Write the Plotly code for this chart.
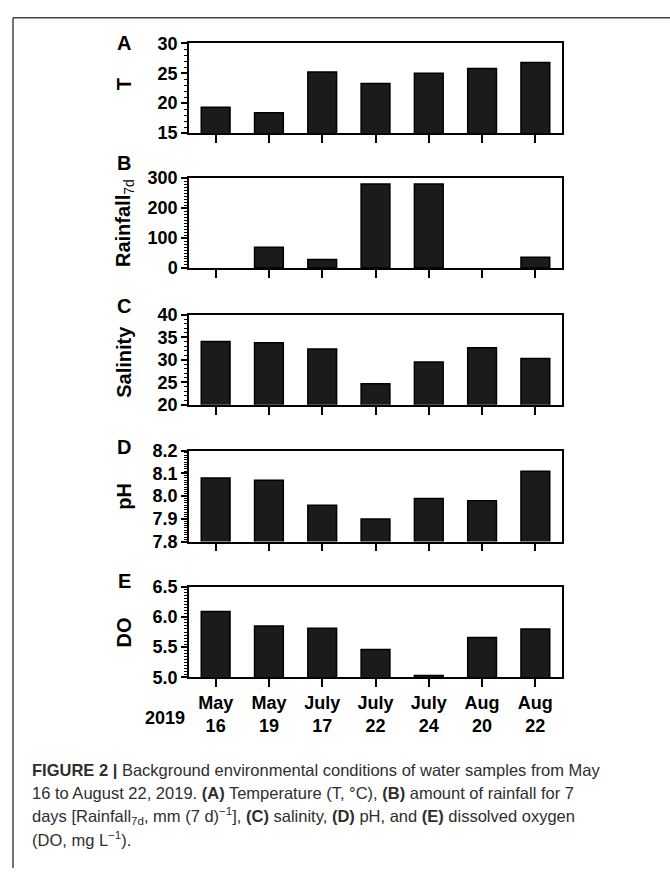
import plotly.graph_objects as go

# Sampling dates (2019) and measured variables
dates = ["May<br>16", "May<br>19", "July<br>17", "July<br>22", "July<br>24", "Aug<br>20", "Aug<br>22"]
temperature = [19.3, 18.4, 25.2, 23.3, 25.0, 25.8, 26.8]
rainfall_7d = [0, 69, 28, 280, 280, 0, 36]
salinity = [34.1, 33.8, 32.4, 24.7, 29.5, 32.7, 30.3]
ph = [8.08, 8.07, 7.96, 7.90, 7.99, 7.98, 8.11]
dissolved_oxygen = [6.09, 5.85, 5.81, 5.46, 5.03, 5.66, 5.80]

W, H = 670, 878
FONT = "Liberation Sans, Arial, sans-serif"


def py(p):
    return 1 - p / H


def px(p):
    return p / W


# panel definitions: values, letter, letter y, y-title, title centre y, range, minor step,
# panel top/bottom (px), tick values, tick labels
panels = [
    (temperature, "A", 34, "<b>T</b>", 76, [15, 30], 1, 34, 126,
     [15, 20, 25, 30], ["15", "20", "25", "30"]),
    (rainfall_7d, "B", 157, "<b>Rainfall</b><sub>7d</sub>", 218, [0, 300], 10, 172, 264,
     [0, 100, 200, 300], ["0", "100", "200", "300"]),
    (salinity, "C", 303, "<b>Salinity</b>", 360, [20, 40], 1, 312, 404,
     [20, 25, 30, 35, 40], ["20", "25", "30", "35", "40"]),
    (ph, "D", 447, "<b>pH</b>", 498, [7.8, 8.2], 0.01, 451, 544,
     [7.8, 7.9, 8.0, 8.1, 8.2], ["7.8", "7.9", "8.0", "8.1", "8.2"]),
    (dissolved_oxygen, "E", 584, "<b>DO</b>", 637, [5.0, 6.5], 0.05, 590, 683,
     [5.0, 5.5, 6.0, 6.5], ["5.0", "5.5", "6.0", "6.5"]),
]

X0, X1 = 189, 562

fig = go.Figure()
annotations = []
layout = {}

for i, (vals, letter, ly, ytitle, ty, yr, minor, top, bot, tv, tt) in enumerate(panels):
    n = i + 1
    xa = "x" if n == 1 else f"x{n}"
    ya = "y" if n == 1 else f"y{n}"
    fig.add_trace(go.Bar(
        x=list(range(len(dates))), y=vals, xaxis=xa, yaxis=ya,
        width=0.54,
        marker=dict(color="#1b1b1b",
                    line=dict(color="#000000", width=[0 if v == 0 else 1.5 for v in vals])),
        showlegend=False,
    ))
    last = (n == len(panels))
    layout[f"xaxis{'' if n == 1 else n}"] = dict(
        domain=[px(X0), px(X1)], anchor=ya,
        range=[-0.5, 6.5],
        tickmode="array", tickvals=list(range(len(dates))), ticktext=dates,
        showticklabels=last,
        tickson="boundaries", ticks="outside", ticklen=8, tickwidth=1.5, tickcolor="#000",
        showline=True, linecolor="#000", linewidth=1.5, mirror=True,
        showgrid=False, zeroline=False,
        tickfont=dict(family=FONT, size=18, color="#000", weight="bold"),
    )
    layout[f"yaxis{'' if n == 1 else n}"] = dict(
        domain=[py(bot), py(top)], anchor=xa,
        range=yr, tickmode="array", tickvals=tv, ticktext=tt,
        ticks="outside", ticklen=6, tickwidth=1.5, tickcolor="#000",
        minor=dict(ticks="outside", ticklen=3, tickwidth=1, tickcolor="#000",
                   tick0=yr[0], dtick=minor, showgrid=False),
        showline=True, linecolor="#000", linewidth=1.5, mirror=True,
        showgrid=False, zeroline=False,
        tickfont=dict(family=FONT, size=18, color="#000", weight="bold"),
    )
    # panel letter
    annotations.append(dict(
        text=f"<b>{letter}</b>", x=px(124), y=py(ly), xref="paper", yref="paper",
        xanchor="center", yanchor="middle", showarrow=False,
        font=dict(family=FONT, size=20, color="#000"),
    ))
    # y-axis title
    annotations.append(dict(
        text=ytitle, x=px(124), y=py(ty),
        xref="paper", yref="paper",
        xanchor="center", yanchor="middle", showarrow=False, textangle=-90,
        font=dict(family=FONT, size=20, color="#000"),
    ))

# year label beside the date ticks
annotations.append(dict(
    text="<b>2019</b>", x=px(165), y=py(725), xref="paper", yref="paper",
    xanchor="center", yanchor="middle", showarrow=False,
    font=dict(family=FONT, size=18, color="#000"),
))

# figure caption
caption = [
    "<b>FIGURE 2 |</b> Background environmental conditions of water samples from May",
    "16 to August 22, 2019. <b>(A)</b> Temperature (T, °C), <b>(B)</b> amount of rainfall for 7",
    "days [Rainfall<sub>7d</sub>, mm (7 d)<sup>−1</sup>], <b>(C)</b> salinity, <b>(D)</b> pH, and <b>(E)</b> dissolved oxygen",
    "(DO, mg L<sup>−1</sup>).",
]
for k, line in enumerate(caption):
    annotations.append(dict(
        text=line, x=px(30), y=py(778 + 23.5 * k), xref="paper", yref="paper",
        xanchor="left", yanchor="middle", showarrow=False,
        font=dict(family=FONT, size=16.5, color="#2e2e2e"),
    ))

# page frame (top and left rules)
shapes = [
    dict(type="line", xref="paper", yref="paper", x0=px(13), x1=1, y0=py(8), y1=py(8),
         line=dict(color="#444", width=1.5)),
    dict(type="line", xref="paper", yref="paper", x0=px(13), x1=px(13), y0=py(8), y1=0,
         line=dict(color="#444", width=1.5)),
]

fig.update_layout(
    width=W, height=H,
    margin=dict(l=0, r=0, t=0, b=0),
    paper_bgcolor="white", plot_bgcolor="white",
    bargap=0.46,
    annotations=annotations, shapes=shapes,
    **layout,
)

fig.write_html("out.html", config={"displayModeBar": False})
